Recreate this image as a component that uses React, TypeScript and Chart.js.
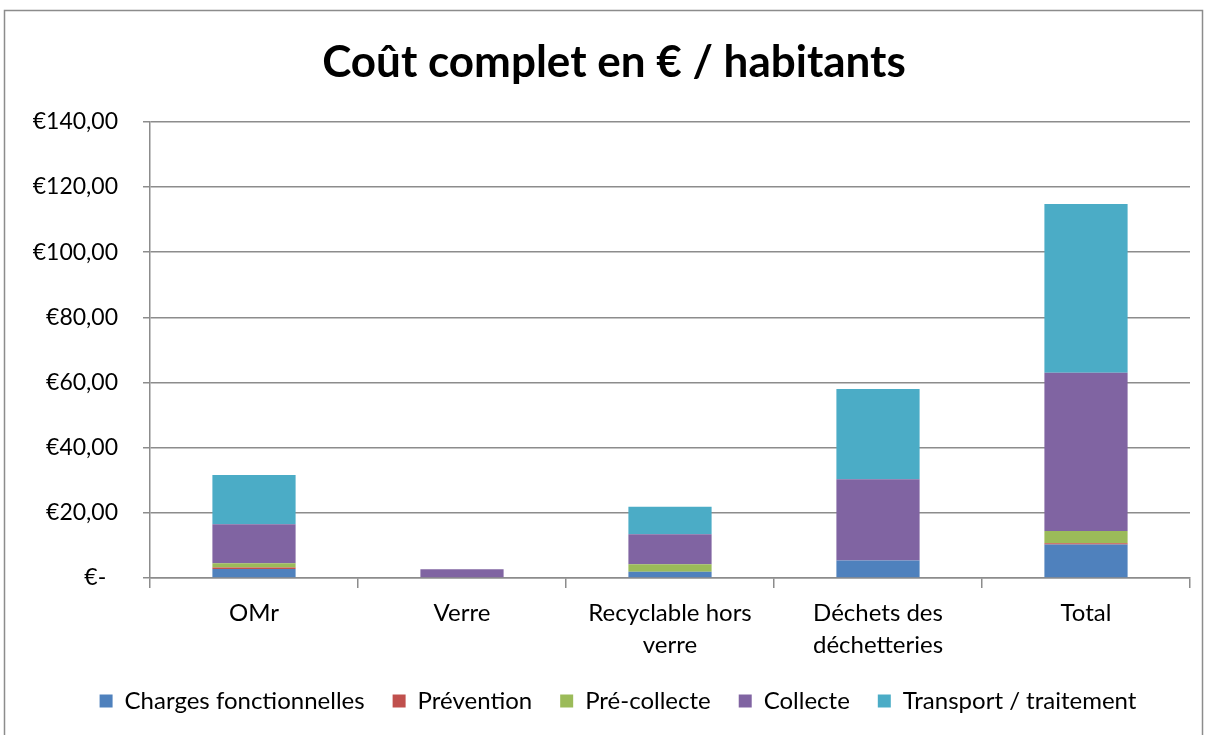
import React, { useEffect, useRef } from "react";
import { Chart, registerables } from "chart.js";

Chart.register(...registerables);

const categories: (string | string[])[] = [
  "OMr",
  "Verre",
  ["Recyclable hors", "verre"],
  ["Déchets des", "déchetteries"],
  "Total",
];

const chargesFonctionnelles = [2.8, 0, 1.9, 5.4, 10.3];
const prevention = [0.4, 0, 0, 0, 0.4];
const preCollecte = [1.3, 0, 2.3, 0, 3.7];
const collecte = [12.0, 2.7, 9.2, 24.9, 48.6];
const transportTraitement = [15.1, 0, 8.5, 27.7, 51.8];

const seriesNames = [
  "Charges fonctionnelles",
  "Prévention",
  "Pré-collecte",
  "Collecte",
  "Transport / traitement",
];
const seriesColors = ["#4F81BD", "#C0504D", "#9BBB59", "#8064A2", "#4BACC6"];

const yTicks = [0, 20, 40, 60, 80, 100, 120, 140];

const FONT = "Lato, 'Open Sans', sans-serif";

const framePlugin = {
  id: "frame",
  afterLayout(chart: any) {
    if (chart.titleBlock) {
      chart.titleBlock.left += 19;
      chart.titleBlock.right += 19;
    }
    if (chart.legend) {
      chart.legend.left += 23;
      chart.legend.right += 23;
    }
  },
  beforeDraw(chart: any) {
    const ctx = chart.ctx;
    ctx.save();
    ctx.fillStyle = "#ffffff";
    ctx.fillRect(0, 0, chart.width, chart.height);
    ctx.strokeStyle = "#8c8c8c";
    ctx.lineWidth = 1.5;
    ctx.strokeRect(4.5, 10.5, 1198, 740);
    ctx.restore();
  },
};

export default function App() {
  const ref = useRef<HTMLCanvasElement | null>(null);

  useEffect(() => {
    document.body.style.margin = "0";
    if (!ref.current) return;
    const values = [
      chargesFonctionnelles,
      prevention,
      preCollecte,
      collecte,
      transportTraitement,
    ];
    const chart = new Chart(ref.current, {
      type: "bar",
      data: {
        labels: categories,
        datasets: values.map((v, i) => ({
          label: seriesNames[i],
          data: v,
          backgroundColor: seriesColors[i],
          borderWidth: 0,
          categoryPercentage: 1,
          barPercentage: 0.4,
        })),
      },
      options: {
        animation: false,
        responsive: false,
        maintainAspectRatio: false,
        layout: { padding: { left: 0, right: 18, top: 10, bottom: 12 } },
        plugins: {
          tooltip: { enabled: false },
          title: {
            display: true,
            text: "Coût complet en € / habitants",
            color: "#000",
            font: { family: FONT, size: 44, weight: "bold", lineHeight: 1.2 },
            padding: { top: 26, bottom: 33 },
          },
          legend: {
            position: "bottom",
            labels: {
              color: "#000",
              font: { family: FONT, size: 24 },
              boxWidth: 13,
              boxHeight: 13,
              padding: 28,
            },
          },
        },
        scales: {
          x: {
            stacked: true,
            grid: {
              display: true,
              drawOnChartArea: false,
              drawTicks: true,
              tickLength: 10,
              color: "#8c8c8c",
              lineWidth: 1.5,
              offset: true,
            },
            border: { display: true, color: "#8c8c8c", width: 1.5 },
            ticks: {
              color: "#000",
              font: { family: FONT, size: 24, lineHeight: 1.33 },
              padding: 9,
              maxRotation: 0,
              autoSkip: false,
            },
            afterFit(scale: any) {
              scale.height = 83;
            },
          },
          y: {
            stacked: true,
            min: 0,
            max: 140,
            afterBuildTicks(scale: any) {
              scale.ticks = yTicks.map((v) => ({ value: v }));
            },
            grid: {
              color: "#8c8c8c",
              lineWidth: 1.5,
              drawTicks: true,
              tickLength: 7,
            },
            border: { display: true, color: "#8c8c8c", width: 1.5 },
            ticks: {
              color: "#000",
              font: { family: FONT, size: 23 },
              padding: 25,
              callback: (v: any) =>
                Number(v) === 0
                  ? "€-  "
                  : "€" + Number(v).toFixed(2).replace(".", ","),
            },
            afterFit(scale: any) {
              scale.width = 150;
            },
          },
        },
      },
      plugins: [framePlugin],
    });
    return () => chart.destroy();
  }, []);

  return (
    <div style={{ width: 1208, height: 735 }}>
      <canvas ref={ref} width={1208} height={735} style={{ width: 1208, height: 735, display: "block" }} />
    </div>
  );
}
